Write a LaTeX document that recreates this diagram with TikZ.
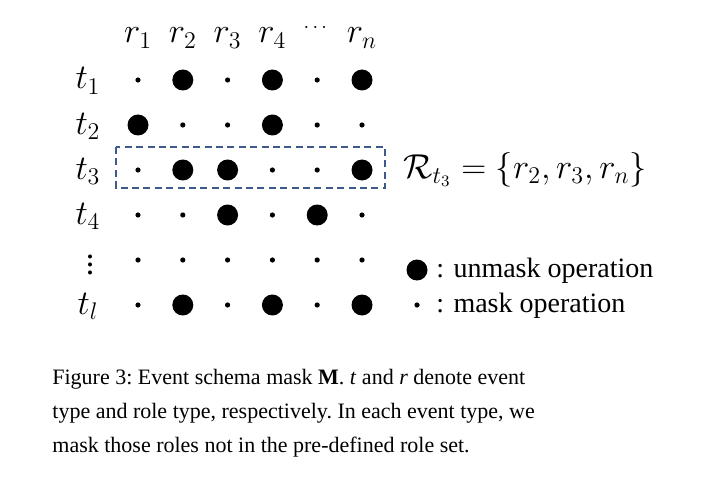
\documentclass[tikz,border=0pt]{standalone}
\usepackage{amsmath,amssymb}
\usepackage{fontspec}
\setmainfont{Liberation Serif}
\usepackage{xcolor}
\usetikzlibrary{calc,positioning}
\definecolor{boxblue}{HTML}{3E5A8C}
\tikzset{
  dot0/.style={circle,fill=black,inner sep=0pt,minimum size=2.6pt},
  dot1/.style={circle,fill=black,inner sep=0pt,minimum size=10.5pt},
  lab/.style={font=\fontsize{17}{20}\selectfont,inner sep=0pt},
  captxt/.style={font=\fontsize{11}{17}\selectfont\frenchspacing,inner sep=0pt,anchor=base west},
  legtxt/.style={font=\fontsize{14}{17}\selectfont,inner sep=0pt,anchor=base west},
  schemabox/.style={boxblue,line width=1pt,dash pattern=on 3.5pt off 2.2pt}
}
\begin{document}
\begin{tikzpicture}[x=0.5pt,y=-0.5pt]
  \useasboundingbox (0,0) rectangle (723,481);
  % column and row labels
  \foreach \r/\j in {r_1/1,r_2/2,r_3/3,r_4/4,r_n/6}
    \node[lab,anchor=base] (r-\j) at ({138+44.8*(\j-1)},43) {$\r$};
  \node[font=\fontsize{10}{12}\selectfont,inner sep=0pt] (r-5) at (317,28) {$\cdots$};
  \foreach \t/\i in {t_1/1,t_2/2,t_3/3,t_4/4,t_l/6}
    \node[lab,anchor=base] (t-\i) at (88,{35+45*\i+9}) {$\t$};
  \node[lab] (t-5) at (90,259) {$\vdots$};
  % mask matrix
  \foreach \row [count=\i] in {{0,1,0,1,0,1},{1,0,0,1,0,0},{0,1,1,0,0,1},{0,0,1,0,1,0},{0,0,0,0,0,0},{0,1,0,1,0,1}}
    \foreach \v [count=\j] in \row
      \node[dot\v] (d-\i-\j) at ({138+44.8*(\j-1)},{35+45*\i}) {};
  % role set of t_3
  \draw[schemabox] ($(d-3-1.center)+(-22,-23)$) rectangle ($(d-3-6.center)+(23,18)$);
  \node[lab,anchor=base west] (rset) at (403,178) {$\mathcal{R}_{t_3}=\{r_2,r_3,r_n\}$};
  % legend
  \node[dot1] (leg-big) at (417,270) {};
  \node[legtxt] (leg-big-txt) at (436,277) {: unmask operation};
  \node[dot0] (leg-small) at (417,305) {};
  \node[legtxt] (leg-small-txt) at (436,312) {: mask operation};
  % caption
  \node[captxt] (cap1) at (52,384) {Figure 3: Event schema mask \textbf{M}. \textit{t} and \textit{r} denote event};
  \node[captxt] (cap2) at (52,418) {type and role type, respectively. In each event type, we};
  \node[captxt] (cap3) at (52,452) {mask those roles not in the pre-defined role set.};
\end{tikzpicture}
\end{document}
